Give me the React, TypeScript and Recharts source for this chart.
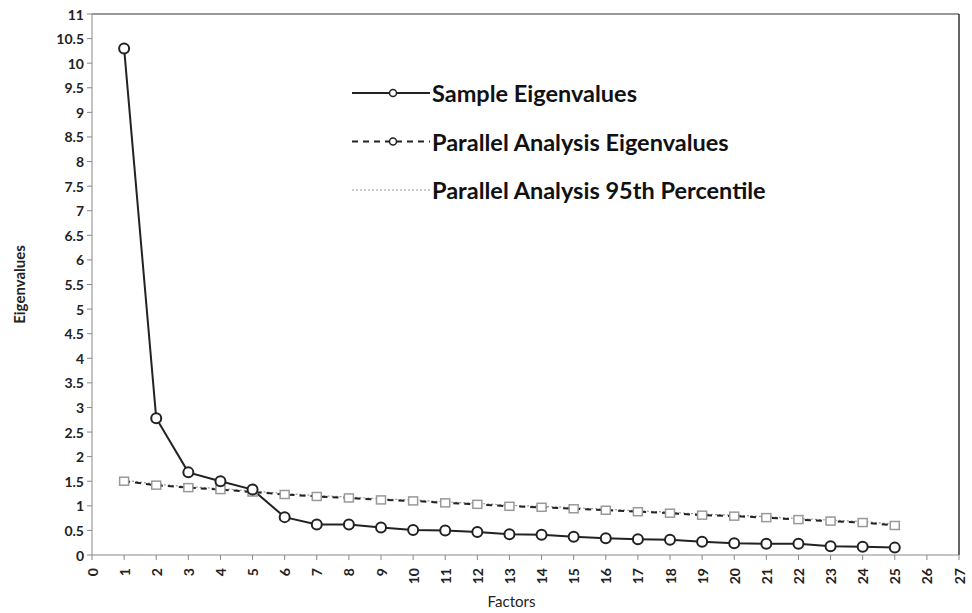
import {
  LineChart,
  Line,
  XAxis,
  YAxis,
  Legend,
  ReferenceLine,
} from 'recharts';

const factors = [1, 2, 3, 4, 5, 6, 7, 8, 9, 10, 11, 12, 13, 14, 15, 16, 17, 18, 19, 20, 21, 22, 23, 24, 25];
const sampleEigen = [10.3, 2.78, 1.68, 1.5, 1.33, 0.77, 0.62, 0.62, 0.56, 0.51, 0.5, 0.47, 0.42, 0.41, 0.37, 0.34, 0.32, 0.31, 0.27, 0.24, 0.23, 0.23, 0.18, 0.17, 0.15];
const parallelEigen = [1.5, 1.42, 1.37, 1.33, 1.28, 1.23, 1.19, 1.16, 1.12, 1.1, 1.06, 1.03, 0.99, 0.97, 0.94, 0.91, 0.88, 0.85, 0.81, 0.79, 0.76, 0.72, 0.69, 0.66, 0.6];
const percentile95 = [1.52, 1.44, 1.39, 1.35, 1.3, 1.25, 1.21, 1.18, 1.14, 1.12, 1.08, 1.05, 1.01, 0.99, 0.96, 0.93, 0.9, 0.87, 0.83, 0.81, 0.78, 0.74, 0.71, 0.68, 0.63];
const xTicks = [0, 1, 2, 3, 4, 5, 6, 7, 8, 9, 10, 11, 12, 13, 14, 15, 16, 17, 18, 19, 20, 21, 22, 23, 24, 25, 26, 27];
const yTicks = [0, 0.5, 1, 1.5, 2, 2.5, 3, 3.5, 4, 4.5, 5, 5.5, 6, 6.5, 7, 7.5, 8, 8.5, 9, 9.5, 10, 10.5, 11];

const data = factors.map((f, i) => ({
  factor: f,
  sample: sampleEigen[i],
  parallel: parallelEigen[i],
  p95: percentile95[i],
}));

const FONT = 'Lato, "Open Sans", sans-serif';

const XTick = (props: any) => {
  const { x, y, payload } = props;
  return (
    <text
      x={x}
      y={y + 6}
      transform={`rotate(-90 ${x} ${y + 6})`}
      textAnchor="end"
      dominantBaseline="central"
      fontFamily={FONT}
      fontWeight={700}
      fontSize={14}
      fill="#222"
    >
      {payload.value}
    </text>
  );
};

const YTick = (props: any) => {
  const { x, y, payload } = props;
  return (
    <text
      x={x - 1}
      y={y}
      textAnchor="end"
      dominantBaseline="central"
      fontFamily={FONT}
      fontWeight={700}
      fontSize={14}
      fill="#222"
    >
      {payload.value}
    </text>
  );
};

const SquareDot = (props: any) => {
  const { cx, cy, index } = props;
  return (
    <rect
      key={`sq-${index}`}
      x={cx - 4.5}
      y={cy - 4}
      width={9}
      height={8}
      fill="#fff"
      stroke="#999"
      strokeWidth={1.5}
    />
  );
};

const LegendBox = () => {
  const rows = [
    { label: 'Sample Eigenvalues', dash: undefined, color: '#222', width: 2, marker: 'circle' },
    { label: 'Parallel Analysis Eigenvalues', dash: '6 5', color: '#222', width: 2, marker: 'circle' },
    { label: 'Parallel Analysis 95th Percentile', dash: '2 2', color: '#999', width: 1, marker: 'none' },
  ];
  return (
    <svg width={460} height={140}>
      {rows.map((r, i) => {
        const y = 22 + i * 48.5;
        return (
          <g key={r.label}>
            <line x1={2} x2={80} y1={y} y2={y} stroke={r.color} strokeWidth={r.width} strokeDasharray={r.dash} />
            {r.marker === 'circle' && <circle cx={43} cy={y} r={3.5} fill="#fff" stroke="#222" strokeWidth={1.5} />}
            <text x={82} y={y} dominantBaseline="central" fontFamily={FONT} fontWeight={700} fontSize={23.5} fill="#111">
              {r.label}
            </text>
          </g>
        );
      })}
    </svg>
  );
};

export default function App() {
  return (
    <div style={{ position: 'absolute', left: 0, top: 0, background: '#fff' }}>
      <LineChart width={972} height={613} data={data} margin={{ top: 14, right: 13, left: 0, bottom: 0 }}>
        <XAxis
          dataKey="factor"
          type="number"
          domain={[0, 27]}
          ticks={xTicks}
          interval={0}
          height={58}
          stroke="#888"
          tickSize={5}
          tick={<XTick />}
          label={{ value: 'Factors', position: 'insideBottom', offset: 6, dx: -14, fontFamily: FONT, fontSize: 15, fill: '#222' }}
        />
        <YAxis
          type="number"
          domain={[0, 11]}
          ticks={yTicks}
          interval={0}
          width={92}
          stroke="#888"
          tickSize={5}
          tick={<YTick />}
          label={{ value: 'Eigenvalues', angle: -90, position: 'insideLeft', offset: 20, fontFamily: FONT, fontWeight: 700, fontSize: 15, fill: '#222', style: { textAnchor: 'middle' } }}
        />
        <ReferenceLine y={11} stroke="#777" strokeWidth={1.5} />
        <ReferenceLine x={27} stroke="#333" strokeWidth={1.5} />
        <Legend
          verticalAlign="middle"
          align="center"
          layout="horizontal"
          content={<LegendBox />}
          wrapperStyle={{ position: 'absolute', left: 350, top: 71, width: 460 }}
        />
        <Line
          dataKey="p95"
          stroke="#999"
          strokeWidth={1.2}
          strokeDasharray="2 2"
          dot={false}
          isAnimationActive={false}
          name="Parallel Analysis 95th Percentile"
        />
        <Line
          dataKey="parallel"
          stroke="#222"
          strokeWidth={2}
          strokeDasharray="6 5"
          dot={<SquareDot />}
          isAnimationActive={false}
          name="Parallel Analysis Eigenvalues"
        />
        <Line
          dataKey="sample"
          stroke="#222"
          strokeWidth={2}
          dot={{ r: 5, fill: '#fff', stroke: '#222', strokeWidth: 2 }}
          isAnimationActive={false}
          name="Sample Eigenvalues"
        />
      </LineChart>
    </div>
  );
}
